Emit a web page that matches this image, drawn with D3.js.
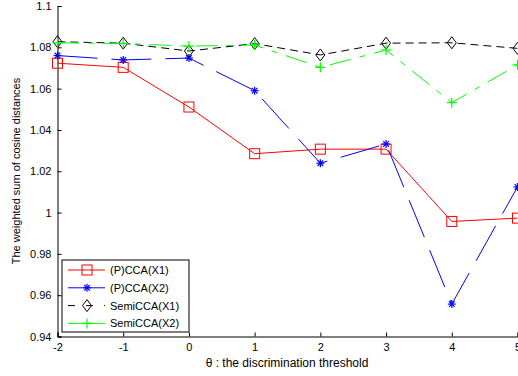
<!DOCTYPE html>
<html><head><meta charset="utf-8">
<script src="https://cdn.jsdelivr.net/npm/d3@7"></script>
<style>body{margin:0;background:#fff;overflow:hidden}svg{display:block;font-family:"Liberation Sans",Arial,sans-serif}</style>
</head><body><svg id="c" width="518" height="376"></svg>
<script>
const thresholds = [-2, -1, 0, 1, 2, 3, 4, 5];
const pccaX1 = [1.0723, 1.0703, 1.0511, 1.0285, 1.0307, 1.0307, 0.9957, 0.9973];
const pccaX2 = [1.0760, 1.0739, 1.0748, 1.0590, 1.0239, 1.0332, 0.9557, 1.0124];
const semiX1 = [1.0827, 1.0820, 1.0782, 1.0818, 1.0763, 1.0820, 1.0822, 1.0795];
const semiX2 = [1.0822, 1.0818, 1.0806, 1.0811, 1.0703, 1.0787, 1.0532, 1.0715];
const yTicks = [0.94, 0.96, 0.98, 1, 1.02, 1.04, 1.06, 1.08, 1.1];
const seriesNames = ["(P)CCA(X1)", "(P)CCA(X2)", "SemiCCA(X1)", "SemiCCA(X2)"];

const svg = d3.select("#c");
const x = d3.scaleLinear().domain([-2, 5]).range([57.5, 517.5]);
const y = d3.scaleLinear().domain([0.94, 1.1]).range([336.5, 6]);

const styles = [
  {color: "#ff0000", dash: null, marker: "square"},
  {color: "#0000ff", dash: "40,14", marker: "star"},
  {color: "#000000", dash: "8,5", marker: "diamond"},
  {color: "#00ff00", dash: "22,9,6,9", marker: "plus"}
];
const data = [pccaX1, pccaX2, semiX1, semiX2];

// axes
const xAxis = d3.axisBottom(x).tickValues(thresholds).tickSize(-4).tickPadding(7).tickFormat(d => String(d));
const yAxis = d3.axisLeft(y).tickValues(yTicks).tickSize(-4).tickPadding(6).tickFormat(d => String(d));
const gx = svg.append("g").attr("transform", `translate(0,${y(0.94)})`).call(xAxis);
const gy = svg.append("g").attr("transform", `translate(${x(-2)},0)`).call(yAxis);
[gx, gy].forEach(g => {
  g.select(".domain").attr("stroke", "#000").attr("stroke-width", 1);
  g.selectAll(".tick line").attr("stroke", "#000");
  g.selectAll("text").attr("fill", "#000").attr("font-size", 11).attr("font-family", "Liberation Sans, Arial, sans-serif");
});

function marker(g, type, cx, cy, color) {
  if (type === "square") {
    g.append("rect").attr("x", cx - 5).attr("y", cy - 5).attr("width", 10).attr("height", 10)
      .attr("fill", "none").attr("stroke", color).attr("stroke-width", 1);
  } else if (type === "star") {
    const r = 4;
    const p = [[-r,0,r,0],[0,-r,0,r],[-r*0.7,-r*0.7,r*0.7,r*0.7],[-r*0.7,r*0.7,r*0.7,-r*0.7]];
    p.forEach(s => g.append("line").attr("x1", cx+s[0]).attr("y1", cy+s[1]).attr("x2", cx+s[2]).attr("y2", cy+s[3])
      .attr("stroke", color).attr("stroke-width", 1.2));
  } else if (type === "diamond") {
    g.append("path").attr("d", `M${cx},${cy-6}L${cx+4.5},${cy}L${cx},${cy+6}L${cx-4.5},${cy}Z`)
      .attr("fill", "none").attr("stroke", color).attr("stroke-width", 1);
  } else if (type === "plus") {
    g.append("line").attr("x1", cx-5).attr("y1", cy).attr("x2", cx+5).attr("y2", cy).attr("stroke", color).attr("stroke-width", 1.2);
    g.append("line").attr("x1", cx).attr("y1", cy-5).attr("x2", cx).attr("y2", cy+5).attr("stroke", color).attr("stroke-width", 1.2);
  }
}

const line = d3.line().x(d => x(d[0])).y(d => y(d[1]));
data.forEach((vals, i) => {
  const st = styles[i];
  const pts = thresholds.map((t, j) => [t, vals[j]]);
  const g = svg.append("g");
  g.append("path").attr("d", line(pts)).attr("fill", "none").attr("stroke", st.color)
    .attr("stroke-width", 1).attr("stroke-dasharray", st.dash);
  pts.forEach(p => marker(g, st.marker, x(p[0]), y(p[1]), st.color));
});

// axis labels
svg.append("text").attr("x", 287).attr("y", 367).attr("text-anchor", "middle").attr("font-size", 12)
  .text("θ : the discrimination threshold");
svg.append("text").attr("transform", "translate(20,171) rotate(-90)").attr("text-anchor", "middle").attr("font-size", 11)
  .text("The weighted sum of cosine distances");

// legend
const lg = svg.append("g");
lg.append("rect").attr("x", 62).attr("y", 260).attr("width", 127).attr("height", 72)
  .attr("fill", "#fff").attr("stroke", "#000").attr("stroke-width", 1);
seriesNames.forEach((name, i) => {
  const st = styles[i];
  const ly = 270 + i * 17.8;
  lg.append("line").attr("x1", 68).attr("x2", 105).attr("y1", ly).attr("y2", ly)
    .attr("stroke", st.color).attr("stroke-width", 1).attr("stroke-dasharray", i === 2 ? "7,11" : null);
  marker(lg, st.marker, 87, ly, st.color);
  lg.append("text").attr("x", 110).attr("y", ly + 4).attr("font-size", 11).text(name);
});
</script></body></html>
